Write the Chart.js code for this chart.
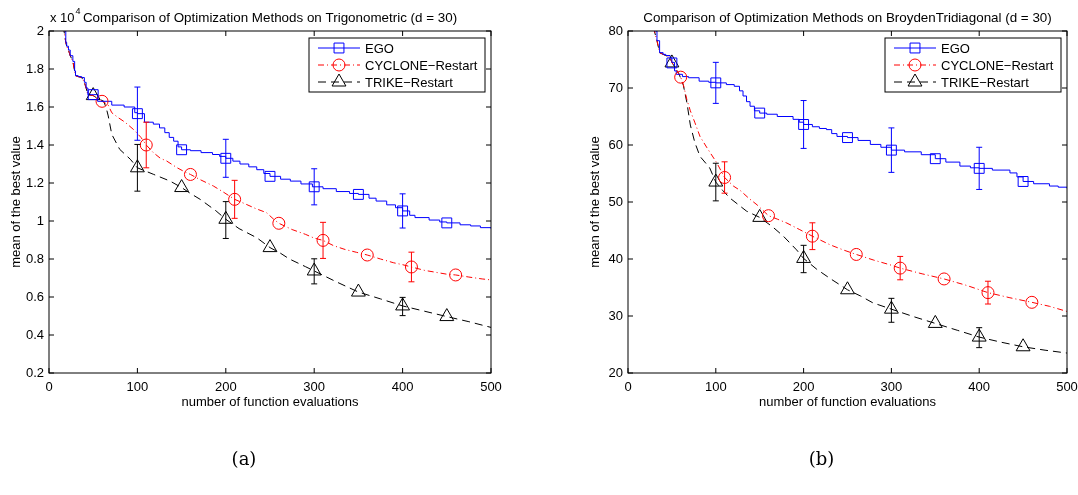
<!DOCTYPE html>
<html>
<head>
<meta charset="utf-8">
<script src="https://cdn.jsdelivr.net/npm/chart.js@4.4.1/dist/chart.umd.min.js"></script>
<style>
  html, body { margin: 0; padding: 0; background: #fff; overflow: hidden; }
  #wrap { position: relative; width: 1078px; height: 495px; }
  canvas { position: absolute; top: 0; }
</style>
</head>
<body>
<div id="wrap">
  <canvas id="chartA" width="539" height="495" style="left:0"></canvas>
  <canvas id="chartB" width="539" height="495" style="left:539px"></canvas>
</div>
<script>
// ---------- (a) Trigonometric, values in units of 1e4 ----------
const xTicks = [0, 100, 200, 300, 400, 500];
const yTicksA = [0.2, 0.4, 0.6, 0.8, 1, 1.2, 1.4, 1.6, 1.8, 2];

const egoXA = [8, 17, 19, 20, 22, 24, 27, 29, 30, 33, 37, 40, 42, 44, 48, 50, 55, 71, 85, 97, 100, 108, 118, 125, 131, 136, 141, 146, 150, 160, 172, 185, 193, 200, 208, 216, 226, 235, 243, 250, 262, 273, 285, 298, 310, 325, 340, 350, 362, 370, 382, 392, 400, 408, 414, 430, 442, 450, 465, 477, 488, 500];
const egoYA = [2.3, 2.0, 1.94, 1.92, 1.90, 1.87, 1.84, 1.79, 1.765, 1.76, 1.755, 1.73, 1.70, 1.665, 1.665, 1.665, 1.63, 1.61, 1.60, 1.57, 1.565, 1.52, 1.51, 1.49, 1.465, 1.44, 1.42, 1.39, 1.375, 1.37, 1.36, 1.35, 1.34, 1.33, 1.315, 1.30, 1.285, 1.27, 1.25, 1.235, 1.22, 1.21, 1.195, 1.18, 1.17, 1.155, 1.145, 1.14, 1.12, 1.105, 1.085, 1.07, 1.053, 1.03, 1.018, 1.005, 0.995, 0.99, 0.98, 0.974, 0.965, 0.96];

const cycXA = [8, 17, 19, 20, 22, 24, 27, 29, 30, 33, 37, 40, 42, 44, 50, 55, 60, 64, 67, 71, 78, 86, 96, 104, 110, 118, 126, 133, 145, 153, 160, 170, 186, 198, 210, 222, 234, 246, 254, 260, 275, 290, 300, 310, 322, 335, 348, 360, 375, 390, 400, 410, 425, 440, 450, 460, 475, 490, 500];
const cycYA = [2.3, 2.0, 1.94, 1.92, 1.90, 1.87, 1.84, 1.79, 1.765, 1.76, 1.755, 1.73, 1.70, 1.665, 1.66, 1.645, 1.63, 1.62, 1.61, 1.57, 1.545, 1.52, 1.48, 1.44, 1.40, 1.36, 1.33, 1.316, 1.28, 1.26, 1.245, 1.22, 1.184, 1.15, 1.114, 1.09, 1.065, 1.044, 1.01, 0.988, 0.955, 0.93, 0.91, 0.898, 0.87, 0.85, 0.835, 0.821, 0.80, 0.78, 0.77, 0.758, 0.74, 0.728, 0.72, 0.716, 0.705, 0.695, 0.69];

const trkXA = [8, 17, 19, 20, 22, 24, 27, 29, 30, 33, 37, 40, 42, 44, 50, 55, 62, 65, 67, 71, 80, 92, 100, 118, 137, 150, 160, 171, 189, 200, 215, 235, 250, 262, 272, 290, 300, 325, 350, 375, 400, 425, 450, 475, 500];
const trkYA = [2.3, 2.0, 1.94, 1.92, 1.90, 1.87, 1.84, 1.79, 1.765, 1.76, 1.755, 1.73, 1.70, 1.665, 1.66, 1.645, 1.63, 1.59, 1.553, 1.456, 1.377, 1.325, 1.28, 1.246, 1.21, 1.176, 1.145, 1.114, 1.053, 1.009, 0.96, 0.912, 0.86, 0.83, 0.80, 0.76, 0.737, 0.68, 0.626, 0.59, 0.553, 0.525, 0.497, 0.47, 0.44];

const sqX = [50, 100, 150, 200, 250, 300, 350, 400, 450];
const ciX = [60, 110, 160, 210, 260, 310, 360, 410, 460];
const trX = [50, 100, 150, 200, 250, 300, 350, 400, 450];
const sqYA = [1.665, 1.565, 1.375, 1.33, 1.235, 1.18, 1.14, 1.053, 0.99];
const ciYA = [1.63, 1.40, 1.245, 1.114, 0.988, 0.898, 0.821, 0.758, 0.716];
const trYA = [1.66, 1.28, 1.176, 1.009, 0.86, 0.737, 0.626, 0.553, 0.497];

const errX = [100, 200, 300, 400];
const errXc = [110, 210, 310, 410];
const egoErrYA = [1.565, 1.33, 1.18, 1.053];
const egoErrA = [0.14, 0.10, 0.095, 0.09];
const cycErrYA = [1.40, 1.114, 0.898, 0.758];
const cycErrA = [0.12, 0.10, 0.095, 0.078];
const trkErrYA = [1.28, 1.005, 0.735, 0.55];
const trkErrA = [0.123, 0.097, 0.066, 0.048];

// ---------- (b) BroydenTridiagonal ----------
const yTicksB = [20, 30, 40, 50, 60, 70, 80];

const egoXB = [20, 30, 33, 36, 40, 43, 48, 50, 53, 55, 62, 69, 81, 92, 100, 112, 121, 127, 131, 135, 139, 144, 150, 158, 170, 188, 195, 200, 210, 218, 226, 232, 238, 250, 262, 276, 288, 300, 315, 334, 350, 362, 378, 390, 400, 415, 435, 443, 450, 462, 480, 490, 500];
const egoYB = [85, 80, 78.3, 76.2, 75.9, 75.7, 75.3, 74.5, 73.0, 72.4, 72.0, 71.8, 71.2, 71.0, 70.9, 70.6, 70.3, 69.5, 68.6, 67.6, 66.8, 66.0, 65.6, 65.4, 65.0, 64.5, 64.0, 63.6, 63.2, 62.9, 62.7, 62.0, 61.5, 61.3, 60.8, 60.1, 59.6, 59.1, 58.8, 58.3, 57.6, 57.0, 56.3, 56.0, 55.9, 55.6, 55.1, 54.4, 53.6, 53.2, 52.8, 52.6, 52.4];

const cycXB = [20, 30, 33, 36, 40, 43, 48, 50, 55, 60, 63, 67, 71, 76, 82, 90, 101, 110, 120, 128, 138, 147, 160, 170, 181, 195, 210, 230, 245, 260, 280, 298, 310, 335, 360, 385, 410, 435, 460, 480, 500];
const cycYB = [85, 80, 78.3, 76.2, 75.9, 75.7, 75.3, 74.5, 73.2, 71.9, 70.6, 68.0, 66.0, 64.0, 61.5, 59.5, 56.9, 54.3, 52.8, 52.0, 50.6, 49.5, 47.6, 47.0, 46.3, 45.2, 44.0, 42.5, 41.6, 40.8, 39.8, 39.0, 38.4, 37.4, 36.5, 35.4, 34.1, 33.2, 32.4, 31.7, 30.8];

const trkXB = [20, 30, 33, 36, 40, 43, 48, 50, 58, 63, 67, 71, 76, 82, 93, 100, 108, 116, 135, 150, 165, 177, 192, 200, 215, 230, 250, 265, 279, 300, 325, 350, 375, 400, 425, 450, 475, 500];
const trkYB = [85, 80, 78.3, 76.2, 75.9, 75.7, 75.3, 74.5, 72.5, 70.5, 67.5, 63.5, 60.5, 58.0, 56.0, 53.5, 52.0, 50.7, 48.4, 47.3, 45.6, 44.0, 41.6, 40.1, 38.2, 36.6, 34.6, 33.5, 32.3, 31.2, 29.9, 28.7, 27.5, 26.3, 25.4, 24.6, 24.0, 23.5];

const sqYB = [74.4, 70.9, 65.6, 63.6, 61.3, 59.1, 57.6, 55.9, 53.6];
const ciYB = [71.9, 54.3, 47.6, 44.0, 40.8, 38.4, 36.5, 34.1, 32.4];
const trYB = [74.4, 53.5, 47.3, 40.1, 34.6, 31.2, 28.7, 26.3, 24.6];

const egoErrYB = [70.9, 63.6, 59.1, 55.9];
const egoErrB = [3.6, 4.2, 3.9, 3.7];
const cycErrYB = [54.3, 44.0, 38.4, 34.1];
const cycErrB = [2.75, 2.35, 2.05, 2.0];
const trkErrYB = [53.5, 40.0, 31.0, 26.2];
const trkErrB = [3.3, 2.4, 2.1, 1.75];

const seriesNames = ['EGO', 'CYCLONE\u2212Restart', 'TRIKE\u2212Restart'];

// ---------- styling ----------
const BLUE = '#0000ff', RED = '#ff0000', BLACK = '#000000';
const FONT = '"Liberation Sans", Arial, Helvetica, sans-serif';
const DASH_CYC = [6, 3, 1, 3];
const DASH_TRK = [8, 5];
const MARK = {
  ego: { pointStyle: 'rect', radius: 7 },
  cyc: { pointStyle: 'circle', radius: 6 },
  trk: { pointStyle: 'triangle', radius: 8 }
};

Chart.defaults.font.family = FONT;
Chart.defaults.font.size = 13;
Chart.defaults.color = '#000';

const pts = (xs, ys) => xs.map((x, i) => ({ x: x, y: ys[i] }));

const decorPlugin = {
  id: 'decor',
  afterDatasetsDraw(chart, args, opts) {
    const ctx = chart.ctx, xs = chart.scales.x, ys = chart.scales.y;
    ctx.save();
    ctx.lineWidth = 1;
    opts.errorBars.forEach(g => {
      ctx.strokeStyle = g.color;
      g.x.forEach((xv, i) => {
        const px = xs.getPixelForValue(xv);
        const top = ys.getPixelForValue(g.y[i] + g.e[i]);
        const bot = ys.getPixelForValue(g.y[i] - g.e[i]);
        ctx.beginPath();
        ctx.moveTo(px, top); ctx.lineTo(px, bot);
        ctx.moveTo(px - 3, top); ctx.lineTo(px + 3, top);
        ctx.moveTo(px - 3, bot); ctx.lineTo(px + 3, bot);
        ctx.stroke();
      });
    });
    ctx.restore();
  },
  afterDraw(chart, args, opts) {
    const ctx = chart.ctx, ca = chart.chartArea;
    const xs = chart.scales.x, ys = chart.scales.y;
    ctx.save();
    // box and inward ticks
    ctx.strokeStyle = '#000';
    ctx.lineWidth = 1;
    ctx.strokeRect(ca.left, ca.top, ca.right - ca.left, ca.bottom - ca.top);
    ctx.beginPath();
    xs.ticks.forEach(t => {
      const px = xs.getPixelForValue(t.value);
      ctx.moveTo(px, ca.bottom); ctx.lineTo(px, ca.bottom - 5);
      ctx.moveTo(px, ca.top); ctx.lineTo(px, ca.top + 5);
    });
    ys.ticks.forEach(t => {
      const py = ys.getPixelForValue(t.value);
      ctx.moveTo(ca.left, py); ctx.lineTo(ca.left + 5, py);
      ctx.moveTo(ca.right, py); ctx.lineTo(ca.right - 5, py);
    });
    ctx.stroke();

    // texts
    const cx = (ca.left + ca.right) / 2;
    ctx.fillStyle = '#000';
    ctx.font = '13.4px ' + FONT;
    ctx.textAlign = 'center';
    ctx.textBaseline = 'middle';
    ctx.fillText(opts.title, cx, 18);
    ctx.font = '13px ' + FONT;
    ctx.fillText(opts.xLabel, cx, ca.bottom + 29);
    ctx.save();
    ctx.translate(ca.left - 33, (ca.top + ca.bottom) / 2);
    ctx.rotate(-Math.PI / 2);
    ctx.fillText(opts.yLabel, 0, 0);
    ctx.restore();
    if (opts.exponent) {
      ctx.textAlign = 'left';
      ctx.fillText('x 10', ca.left + 1, 18);
      const w = ctx.measureText('x 10').width;
      ctx.font = '9px ' + FONT;
      ctx.fillText(opts.exponent, ca.left + 1 + w + 1, 12);
    }
    ctx.font = '18px "DejaVu Serif", "Liberation Serif", serif';
    ctx.textAlign = 'center';
    ctx.fillText(opts.caption, cx - 26, 460);

    // legend
    const bx = ca.right - 182, by = ca.top + 7, bw = 176, bh = 54;
    ctx.fillStyle = '#fff';
    ctx.fillRect(bx, by, bw, bh);
    ctx.strokeStyle = '#000';
    ctx.lineWidth = 1;
    ctx.strokeRect(bx, by, bw, bh);
    ctx.font = '13px ' + FONT;
    ctx.textAlign = 'left';
    opts.legend.forEach((it, i) => {
      const ly = by + 10 + i * 17;
      ctx.strokeStyle = it.color;
      ctx.setLineDash(it.dash);
      ctx.beginPath();
      ctx.moveTo(bx + 9, ly); ctx.lineTo(bx + 51, ly);
      ctx.stroke();
      ctx.setLineDash([]);
      ctx.fillStyle = 'rgba(0,0,0,0)';
      Chart.helpers.drawPoint(ctx, { pointStyle: it.mark.pointStyle, radius: it.mark.radius, rotation: 0, borderWidth: 1 }, bx + 30, ly);
      ctx.fillStyle = '#000';
      ctx.fillText(it.label, bx + 56, ly + 1);
    });
    ctx.restore();
  }
};

function makeChart(id, d) {
  const lineDs = (label, xs, ys, color, dash, stepped) => ({
    label: label, data: pts(xs, ys), borderColor: color, borderWidth: 1,
    borderDash: dash, pointRadius: 0, fill: false, stepped: stepped, tension: 0
  });
  const markDs = (label, xs, ys, color, m) => ({
    label: label, data: pts(xs, ys), showLine: false, borderColor: color,
    backgroundColor: 'rgba(0,0,0,0)', pointStyle: m.pointStyle, pointRadius: m.radius,
    pointBorderWidth: 1, pointBorderColor: color, pointBackgroundColor: 'rgba(0,0,0,0)'
  });
  return new Chart(document.getElementById(id), {
    type: 'line',
    data: {
      datasets: [
        markDs('EGO markers', sqX, d.sqY, BLUE, MARK.ego),
        markDs('CYCLONE markers', ciX, d.ciY, RED, MARK.cyc),
        markDs('TRIKE markers', trX, d.trY, BLACK, MARK.trk),
        lineDs(seriesNames[0], d.egoX, d.egoY, BLUE, [], true),
        lineDs(seriesNames[1], d.cycX, d.cycY, RED, DASH_CYC, false),
        lineDs(seriesNames[2], d.trkX, d.trkY, BLACK, DASH_TRK, false)
      ]
    },
    options: {
      responsive: false,
      animation: false,
      devicePixelRatio: 1,
      layout: { padding: { left: 0, right: d.padRight, top: 31, bottom: 0 } },
      plugins: {
        legend: { display: false },
        tooltip: { enabled: false },
        decor: {
          title: d.title, xLabel: 'number of function evaluations', yLabel: 'mean of the best value',
          caption: d.caption, exponent: d.exponent,
          errorBars: [
            { color: BLUE, x: errX, y: d.egoErrY, e: d.egoErr },
            { color: RED, x: errXc, y: d.cycErrY, e: d.cycErr },
            { color: BLACK, x: errX, y: d.trkErrY, e: d.trkErr }
          ],
          legend: [
            { label: seriesNames[0], color: BLUE, dash: [], mark: MARK.ego },
            { label: seriesNames[1], color: RED, dash: DASH_CYC, mark: MARK.cyc },
            { label: seriesNames[2], color: BLACK, dash: DASH_TRK, mark: MARK.trk }
          ]
        }
      },
      scales: {
        x: {
          type: 'linear', min: 0, max: 500,
          grid: { display: false, drawTicks: false, tickLength: 0 }, border: { display: false },
          afterBuildTicks: s => { s.ticks = xTicks.map(v => ({ value: v })); },
          ticks: { color: '#000', padding: 7, maxRotation: 0, autoSkip: false },
          afterFit: s => { s.height = 122; s.paddingLeft = 0; s.paddingRight = 0; }
        },
        y: {
          type: 'linear', min: d.yTicks[0], max: d.yTicks[d.yTicks.length - 1],
          grid: { display: false, drawTicks: false, tickLength: 0 }, border: { display: false },
          afterBuildTicks: s => { s.ticks = d.yTicks.map(v => ({ value: v })); },
          ticks: { color: '#000', padding: 5, autoSkip: false, callback: v => String(+v.toFixed(1)) },
          afterFit: s => { s.width = d.yWidth; s.paddingTop = 0; s.paddingBottom = 0; }
        }
      }
    },
    plugins: [decorPlugin]
  });
}

makeChart('chartA', {
  title: 'Comparison of Optimization Methods on Trigonometric (d = 30)',
  caption: '(a)', exponent: '4', yWidth: 49, padRight: 48, yTicks: yTicksA,
  egoX: egoXA, egoY: egoYA, cycX: cycXA, cycY: cycYA, trkX: trkXA, trkY: trkYA,
  sqY: sqYA, ciY: ciYA, trY: trYA,
  egoErrY: egoErrYA, egoErr: egoErrA, cycErrY: cycErrYA, cycErr: cycErrA, trkErrY: trkErrYA, trkErr: trkErrA
});

makeChart('chartB', {
  title: 'Comparison of Optimization Methods on BroydenTridiagonal (d = 30)',
  caption: '(b)', exponent: null, yWidth: 89, padRight: 11, yTicks: yTicksB,
  egoX: egoXB, egoY: egoYB, cycX: cycXB, cycY: cycYB, trkX: trkXB, trkY: trkYB,
  sqY: sqYB, ciY: ciYB, trY: trYB,
  egoErrY: egoErrYB, egoErr: egoErrB, cycErrY: cycErrYB, cycErr: cycErrB, trkErrY: trkErrYB, trkErr: trkErrB
});
</script>
</body>
</html>
